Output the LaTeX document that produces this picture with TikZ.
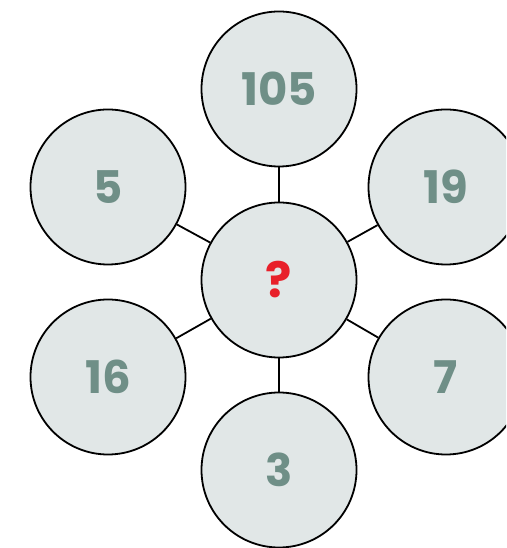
\documentclass[tikz,border=0pt]{standalone}
\usepackage{fontspec}
\newfontfamily\numfont{Poppins}
\definecolor{circfill}{HTML}{E1E7E7}
\definecolor{numcol}{HTML}{6F8F87}
\definecolor{qcol}{HTML}{E8202A}
\begin{document}
\begin{tikzpicture}[x=1pt,y=1pt,
  bubble/.style={circle,draw=black,line width=1.8pt,fill=circfill,minimum size=155pt,inner sep=0pt,
    font=\numfont\bfseries\fontsize{45}{45}\selectfont,text=numcol},
  link/.style={draw=black,line width=1.8pt}]
\useasboundingbox (0,0) rectangle (506,548);
\clip (0,0) rectangle (506,548);
\node[bubble,text=qcol,font=\numfont\bfseries\fontsize{49}{49}\selectfont] (c) at (279,268) {?};
\node[bubble] (t) at (279,459) {105};
\node[bubble] (lt) at (108,361) {5};
\node[bubble] (rt) at (446,361) {19};
\node[bubble] (lb) at (108,171) {16};
\node[bubble] (rb) at (446,171) {7};
\node[bubble] (b) at (279,78) {3};
\foreach \n in {t,lt,rt,lb,rb,b} \draw[link] (c) -- (\n);
\end{tikzpicture}
\end{document}
